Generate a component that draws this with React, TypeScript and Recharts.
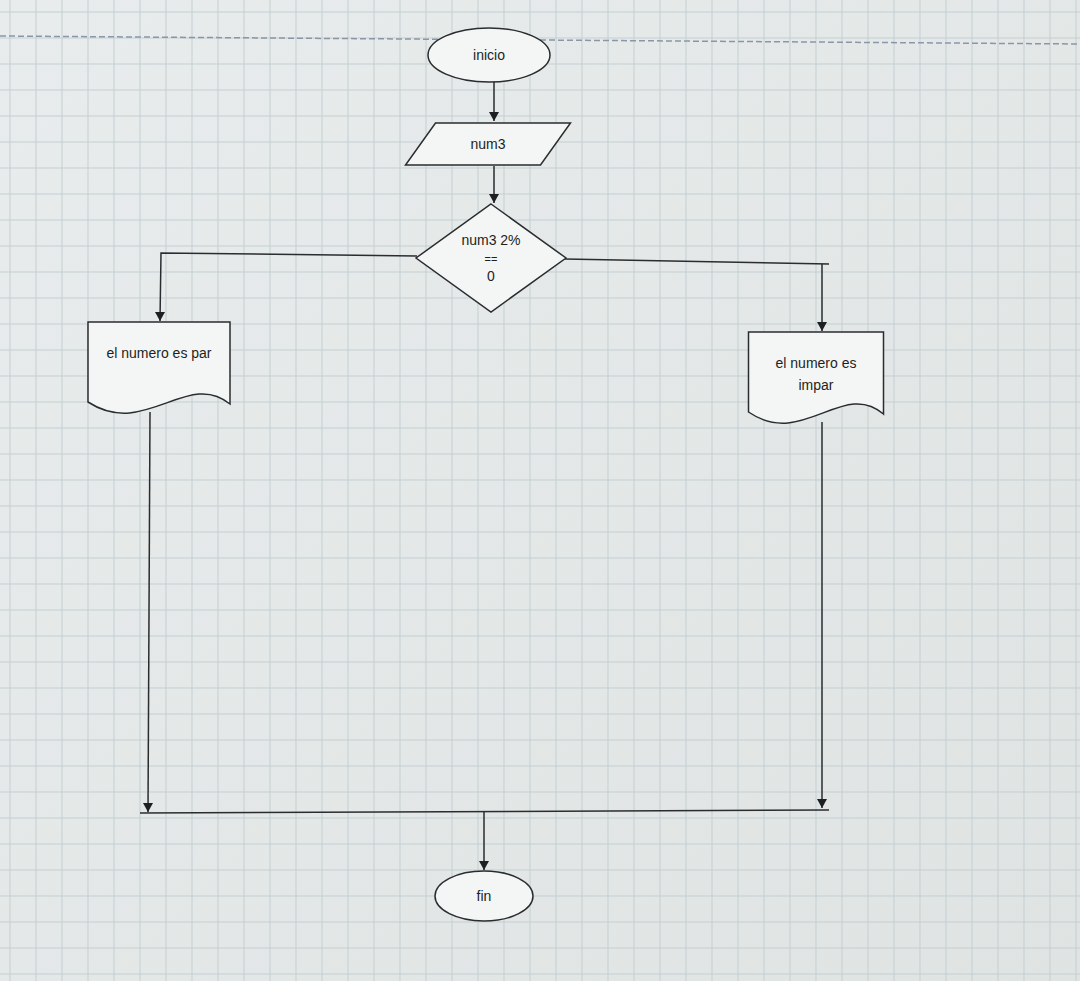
import React from "react";
import { ComposedChart, XAxis, YAxis, CartesianGrid, Scatter } from "recharts";

const W = 1080, H = 981;

// Nodes of the flowchart (data coordinates)
const nodes = [
  { id: "inicio", x: 489, y: 55, kind: "ellipse", w: 122, h: 54, lines: ["inicio"] },
  { id: "num3", x: 488, y: 144, kind: "para", w: 135, h: 42, lines: ["num3"] },
  { id: "cond", x: 491, y: 258, kind: "diamond", w: 150, h: 108, lines: ["num3 2%", "==", "0"] },
  { id: "par", x: 159, y: 368, kind: "doc", w: 142, h: 92, lines: ["el numero es par"] },
  { id: "impar", x: 816, y: 378, kind: "doc", w: 135, h: 92, lines: ["el numero es", "impar"] },
  { id: "fin", x: 484, y: 896, kind: "ellipse", w: 98, h: 50, lines: ["fin"] },
];

// Edges (polylines)
const edges = [
  [{ x: 494, y: 82 }, { x: 494, y: 121 }],
  [{ x: 494, y: 166 }, { x: 494, y: 203 }],
  [{ x: 417, y: 256 }, { x: 161, y: 253 }, { x: 160, y: 321 }],
  [{ x: 565, y: 259 }, { x: 829, y: 264 }],
  [{ x: 822, y: 264 }, { x: 822, y: 331 }],
  [{ x: 150, y: 412 }, { x: 148, y: 812 }],
  [{ x: 822, y: 422 }, { x: 822, y: 808 }],
  [{ x: 140, y: 813 }, { x: 829, y: 810 }],
  [{ x: 484, y: 812 }, { x: 484, y: 870 }],
];
const dashedTop = [{ x: 0, y: 36 }, { x: 1080, y: 44 }];

const arrows = [
  { x: 494, y: 121 }, { x: 494, y: 203 }, { x: 160, y: 321 }, { x: 822, y: 331 },
  { x: 148, y: 812 }, { x: 822, y: 808 }, { x: 484, y: 870 },
];

const gridX: number[] = [];
const gridY: number[] = [];
for (let i = 10; i < W; i += 26) gridX.push(i);
for (let j = 12; j < H; j += 26) gridY.push(j);

const font = "Liberation Sans, Arial, sans-serif";

const NodeShape = (p: any) => {
  const { cx, cy, payload } = p;
  const { kind, w, h, lines } = payload;
  const st = { fill: "#f4f6f5", stroke: "#2a2d30", strokeWidth: 1.5 };
  let shape: any = null;
  if (kind === "ellipse") shape = <ellipse cx={cx} cy={cy} rx={w / 2} ry={h / 2} {...st} />;
  if (kind === "para") {
    const o = 15;
    shape = <polygon points={`${cx - w / 2 + o},${cy - h / 2} ${cx + w / 2 + o},${cy - h / 2} ${cx + w / 2 - o},${cy + h / 2} ${cx - w / 2 - o},${cy + h / 2}`} {...st} />;
  }
  if (kind === "diamond")
    shape = <polygon points={`${cx},${cy - h / 2} ${cx + w / 2},${cy} ${cx},${cy + h / 2} ${cx - w / 2},${cy}`} {...st} />;
  if (kind === "doc") {
    const l = cx - w / 2, r = cx + w / 2, t = cy - h / 2, b = cy + h / 2;
    shape = <path d={`M${l},${t} L${r},${t} L${r},${b - 10} C${r - w * 0.3},${b - 45} ${l + w * 0.4},${b + 25} ${l},${b - 12} Z`} {...st} />;
  }
  const textTop = kind === "doc" ? cy - h / 2 + 36 : cy - ((lines.length - 1) * 18) / 2 + 5;
  return (
    <g>
      {shape}
      {lines.map((s: string, i: number) => (
        <text key={i} x={cx} y={textTop + i * (kind === "diamond" ? 18 : 22)} textAnchor="middle"
          fontFamily={font} fontSize={s === "==" ? 11 : 14} fill="#1d1f22">{s}</text>
      ))}
    </g>
  );
};

const Arrow = (p: any) => {
  const { cx, cy } = p;
  return <polygon points={`${cx - 5},${cy - 9} ${cx + 5},${cy - 9} ${cx},${cy}`} fill="#1d1f22" />;
};
const NoShape = () => <g />;

export default function App() {
  return (
    <div style={{ position: "absolute", left: 0, top: 0, background: "linear-gradient(135deg,#e9ecec,#dfe3e2)" }}>
      <ComposedChart width={W} height={H} margin={{ top: 0, right: 0, bottom: 0, left: 0 }}>
        <XAxis type="number" dataKey="x" domain={[0, W]} hide />
        <YAxis type="number" dataKey="y" domain={[0, H]} reversed hide />
        <CartesianGrid stroke="#c3cfd3" strokeWidth={1} horizontalPoints={gridY} verticalPoints={gridX} />
        <Scatter data={dashedTop} dataKey="y" line={{ stroke: "#8a96a8", strokeDasharray: "6 3", strokeWidth: 1.5 }} shape={<NoShape />} isAnimationActive={false} />
        {edges.map((e, i) => (
          <Scatter key={i} data={e} dataKey="y" line={{ stroke: "#2a2d30", strokeWidth: 1.5 }} shape={<NoShape />} isAnimationActive={false} />
        ))}
        <Scatter data={arrows} dataKey="y" shape={<Arrow />} isAnimationActive={false} />
        <Scatter data={nodes} dataKey="y" shape={<NodeShape />} isAnimationActive={false} />
      </ComposedChart>
    </div>
  );
}
